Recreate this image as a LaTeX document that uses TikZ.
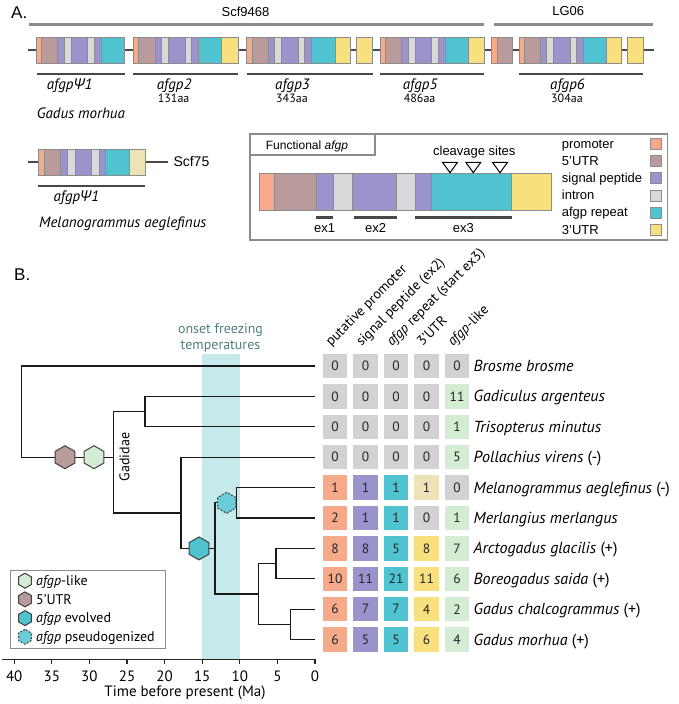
\documentclass[tikz,border=0pt]{standalone}
\usepackage{fontspec}
\setmainfont{PT Sans}
\newfontfamily\arialfont{Liberation Sans}
\newfontfamily\psifont{Open Sans}
\usetikzlibrary{shapes.geometric}

\definecolor{prom}{HTML}{F6AA8A}
\definecolor{utrf}{HTML}{B99B9B}
\definecolor{sigp}{HTML}{9B93CC}
\definecolor{intr}{HTML}{D9D9DB}
\definecolor{rept}{HTML}{4FC3CF}
\definecolor{utrt}{HTML}{F9E07F}
\definecolor{utrp}{HTML}{EDE3B7}
\definecolor{nilc}{HTML}{D2D2D4}
\definecolor{likec}{HTML}{D4EBD4}
\definecolor{bandc}{HTML}{C6E9EB}
\definecolor{tealtxt}{HTML}{4F7F80}
\definecolor{boxgrey}{HTML}{8C8C8C}
\definecolor{linegrey}{HTML}{484848}
\colorlet{col1}{prom}
\colorlet{col2}{sigp}
\colorlet{col3}{rept}
\colorlet{col4}{utrt}
\colorlet{col5}{likec}

\newcommand{\fsz}[1]{\fontsize{#1pt}{#1pt}\selectfont}
\newcommand{\afgp}{\textit{afgp}}
\newcommand{\psione}{\textit{afgp{\psifont Ψ}1}}
\newcommand{\genebar}[3]{%
  \foreach \xa/\xb/\col in {#3} {\draw[seg, fill=\col] (\xa,#1) rectangle (\xb,#2);}}

\tikzset{
  seg/.style={draw=boxgrey, line width=0.6pt},
  scfline/.style={line width=3pt, boxgrey},
  backbone/.style={line width=2.5pt, linegrey},
  uline/.style={line width=2.5pt, linegrey},
  genelab/.style={anchor=base west, inner sep=0pt, font=\fsz{15}},
  aalab/.style={anchor=base west, inner sep=0pt, font=\fsz{12}},
  arial/.style={inner sep=0pt, font=\arialfont\fsz{13}},
  tree/.style={line width=1.3pt, black!90},
  cell/.style={minimum width=24.5pt, minimum height=24.5pt, inner sep=0pt, font=\fsz{13.5}, text=black!85},
  spec/.style={anchor=base west, inner sep=0pt, font=\fsz{16}},
  head/.style={anchor=base west, rotate=45, inner sep=0pt, font=\fsz{14}},
  hexa/.style={regular polygon, regular polygon sides=6, shape border rotate=30,
    draw=black!75, line width=1pt, inner sep=0pt, minimum size=23pt},
  hexsmall/.style={hexa, minimum size=15pt},
  likehex/.style={fill=likec},
  utrhex/.style={fill=utrf},
  evohex/.style={fill=rept},
  pseudohex/.style={fill=rept!85!white, dashed, dash pattern=on 2pt off 1.5pt}
}

\begin{document}
\begin{tikzpicture}[x=1pt, y=-1pt]
\useasboundingbox (0,0) rectangle (678,704);

% ---------- A: gene arrays ----------
\node[anchor=base west, inner sep=0pt, font=\arialfont\fsz{17}] (labA) at (11,19) {A.};
\node[arial, anchor=base] (scfa) at (245.5,16.7) {Scf9468};
\node[arial, anchor=base] (lgsix) at (568.3,16) {LG06};
\draw[scfline] (29.3,24) -- (484.3,24);
\draw[scfline] (494.3,24) -- (653.3,24);

% Gadus morhua row
\draw[backbone] (28,50) -- (653.5,50);
\genebar{37}{63}{36.7/41.7/prom, 41.7/57.7/utrf, 57.7/64.3/sigp, 64.3/71.5/intr, 71.5/87.7/sigp, 87.7/94.5/intr, 94.5/101.7/sigp, 101.7/124.7/rept,
  133.3/138.3/prom, 138.3/155/utrf, 155/161.7/sigp, 161.7/168.3/intr, 168.3/185/sigp, 185/191/intr, 191/198.3/sigp, 198.3/221.7/rept, 221.7/238.3/utrt,
  246.7/252/prom, 252/268/utrf, 268/274.3/sigp, 274.3/281.5/intr, 281.5/298/sigp, 298/304.7/intr, 304.7/311.7/sigp, 311.7/335/rept, 335/350/utrt,
  355.8/372.5/utrt,
  380/385/prom, 385/401.7/utrf, 401.7/408.3/sigp, 408.3/415/intr, 415/431.7/sigp, 431.7/438.3/intr, 438.3/445/sigp, 445/468.3/rept, 468.3/484.3/utrt,
  491.7/496.8/prom, 496.8/512.7/utrf,
  519/524.3/prom, 524.3/540.7/utrf, 540.7/546.7/sigp, 546.7/553.3/intr, 553.3/570/sigp, 570/576.7/intr, 576.7/583.3/sigp, 583.3/606.7/rept, 606.7/621.7/utrt,
  627.7/643.3/utrt}
\foreach \xa/\xb in {36.7/124.7, 133.3/238.3, 246.7/372.5, 380/484.3, 519/643.3}
  \draw[uline] (\xa,74) -- (\xb,74);
\node[genelab] (gpsi) at (46.7,89.3) {\psione};
\foreach \n/\x/\aa in {2/156.7/131aa, 3/275/343aa, 5/402.7/486aa, 6/550/304aa} {
  \node[genelab] (g\n) at (\x,89.3) {\afgp\textit{\n}};
  \node[aalab] (aa\n) at (\x+1,102.7) {\aa};
}
\node[genelab] (gmor) at (36.7,118.3) {\textit{Gadus morhua}};

% Melanogrammus row
\draw[backbone] (28,162) -- (168,162);
\genebar{149}{175}{38.3/44.3/prom, 44.3/60.7/utrf, 60.7/67.7/sigp, 67.7/75/intr, 75/91.7/sigp, 91.7/99/intr, 99/105.7/sigp, 105.7/129/rept, 129/145/utrp}
\draw[uline] (38.3,186) -- (145,186);
\node[arial, anchor=west, font=\arialfont\fsz{14}] (scfb) at (173.3,162) {Scf75};
\node[genelab] (mpsi) at (53.3,201.3) {\psione};
\node[genelab] (mael) at (39,227) {\textit{Melanogrammus aeglefinus}};

% Functional afgp box
\draw[boxgrey, line width=1.3pt] (250,134) rectangle (667.7,240);
\draw[boxgrey, line width=1.3pt, fill=white] (250,134) rectangle (375,155);
\node[arial, anchor=base west, font=\arialfont\fsz{12}] (func) at (265.7,149) {Functional \textit{afgp}};
\genebar{173.3}{210}{259/274.3/prom, 274.3/316.7/utrf, 316.7/333.7/sigp, 333.7/352.3/intr, 352.3/396.7/sigp, 396.7/415/intr, 415/431.7/sigp, 431.7/511.7/rept, 511.7/551/utrt}
\node[arial, anchor=base] (cleav) at (474.3,155.2) {cleavage sites};
\foreach \x in {450,473.3,500}
  \draw[black, line width=1pt, fill=white, line join=miter] (\x-7.5,162.3) -- (\x+7.5,162.3) -- (\x,172.7) -- cycle;
\foreach \n/\xa/\xb in {1/315.7/333.3, 2/354.3/396.7, 3/415/511.7} {
  \draw[uline] (\xa,217.3) -- (\xb,217.3);
  \node[arial, anchor=base] (ex\n) at ({(\xa+\xb)/2},232.5) {ex\n};
}
\foreach \k/\lab/\col in {0/promoter/prom, 1/5’UTR/utrf, 2/signal peptide/sigp, 3/intron/intr, 4/afgp repeat/rept, 5/3’UTR/utrt} {
  \node[arial, anchor=base west] (lg\k) at (561.7,{148.5+17.1*\k}) {\lab};
  \draw[seg, fill=\col] (650.5,{138.5+17.1*\k}) rectangle (661.5,{149.5+17.1*\k});
}

% ---------- B: tree and table ----------
\node[anchor=base west, inner sep=0pt, font=\arialfont\fsz{17}] (labB) at (14,280) {B.};
\fill[bandc] (202.2,354.3) rectangle (239.8,659.3);
\node[align=center, text=tealtxt, font=\fsz{14}, inner sep=0pt] (onset) at (220.5,338)
  {onset freezing\\[2pt]temperatures};

% column heads
\foreach \j/\lab in {1/{putative promoter}, 2/{signal peptide (ex2)}, 3/{\afgp{} repeat (start ex3)}, 4/{3’UTR}, 5/{\afgp-like}}
  \node[head] (h\j) at ({331+30.5*(\j-1)},347) {\lab};

% table cells, species and tips
\foreach \i/\spname/\va/\vb/\vc/\vd/\ve in {
  1/{\textit{Brosme brosme}}/0/0/0/0/0,
  2/{\textit{Gadiculus argenteus}}/0/0/0/0/11,
  3/{\textit{Trisopterus minutus}}/0/0/0/0/1,
  4/{\textit{Pollachius virens} (-)}/0/0/0/0/5,
  5/{\textit{Melanogrammus aeglefinus} (-)}/1/1/1/1/0,
  6/{\textit{Merlangius merlangus}}/2/1/1/0/1,
  7/{\textit{Arctogadus glacilis} (+)}/8/8/5/8/7,
  8/{\textit{Boreogadus saida} (+)}/10/11/21/11/6,
  9/{\textit{Gadus chalcogrammus} (+)}/6/7/7/4/2,
  10/{\textit{Gadus morhua} (+)}/6/5/5/6/4} {
  \pgfmathsetmacro\ry{366+30.4*(\i-1)}
  \coordinate (t\i) at (315,\ry);
  \foreach \j/\v in {1/\va,2/\vb,3/\vc,4/\vd,5/\ve} {
    \pgfmathsetmacro\cx{335+30.5*(\j-1)}
    \ifnum\v=0 \def\cc{nilc}\else\def\cc{col\j}\fi
    \ifnum\i=5 \ifnum\j=4 \def\cc{utrp}\fi\fi
    \node[cell, fill=\cc] (c\i-\j) at (\cx,\ry) {\v};
  }
  \node[spec] (s\i) at (473.5,\ry+5.5) {\spname};
}

% tree
\coordinate (nGT) at (145,411.6);
\coordinate (nMM) at (236.7,502.8);
\coordinate (nAB) at (276,563.6);
\coordinate (nCM) at (290.7,624.4);
\coordinate (nGad) at (258.3,594);
\coordinate (nAfgp) at (215,548.4);
\coordinate (nRest) at (181,513);
\coordinate (nGadidae) at (113.3,457.2);
\coordinate (nRoot) at (21.7,400);
\draw[tree] (t2) -| (nGT) |- (t3);
\draw[tree] (t5) -| (nMM) |- (t6);
\draw[tree] (t7) -| (nAB) |- (t8);
\draw[tree] (t9) -| (nCM) |- (t10);
\draw[tree] (nAB) -| (nGad) |- (nCM);
\draw[tree] (nMM) -| (nAfgp) |- (nGad);
\draw[tree] (t4) -| (nRest) |- (nAfgp);
\draw[tree] (nGT) -| (nGadidae) |- (nRest);
\draw[tree] (t1) -| (nRoot) |- (nGadidae);
\node[rotate=90, font=\fsz{14}, inner sep=0pt] (gadidae) at (124.5,457) {Gadidae};

% events on branches
\node[hexa, utrhex] (hUTR) at (65,457.2) {};
\node[hexa, likehex] (hLike) at (94,457.2) {};
\node[hexa, evohex] (hEvo) at (199,548.4) {};
\node[hexa, pseudohex, minimum size=21pt] (hPseudo) at (226.7,502.8) {};

% legend
\draw[boxgrey, line width=1pt, fill=white] (10,570) rectangle (165.7,648.3);
\foreach \k/\lab/\sty in {0/{\afgp-like}/likehex, 1/{5’UTR}/utrhex, 2/{\afgp{} evolved}/evohex, 3/{\afgp{} pseudogenized}/pseudohex} {
  \node[hexsmall, \sty] (lh\k) at (25,{580.7+18.7*\k}) {};
  \node[spec, font=\fsz{14}] (lt\k) at (36,{585.5+18.7*\k}) {\lab};
}

% time axis
\draw[line width=1.2pt, black!85] (2,659.3) -- (315,659.3);
\foreach \t in {0,5,...,40} {
  \draw[line width=1.2pt, black!85] ({315-7.52*\t},659.3) -- ++(0,5);
  \node[font=\fsz{15}, inner sep=0pt] (tk\t) at ({315-7.52*\t},676.7) {\t};
}
\node[font=\fsz{15}, inner sep=0pt] (axtitle) at (185,693.3) {Time before present (Ma)};
\end{tikzpicture}
\end{document}
